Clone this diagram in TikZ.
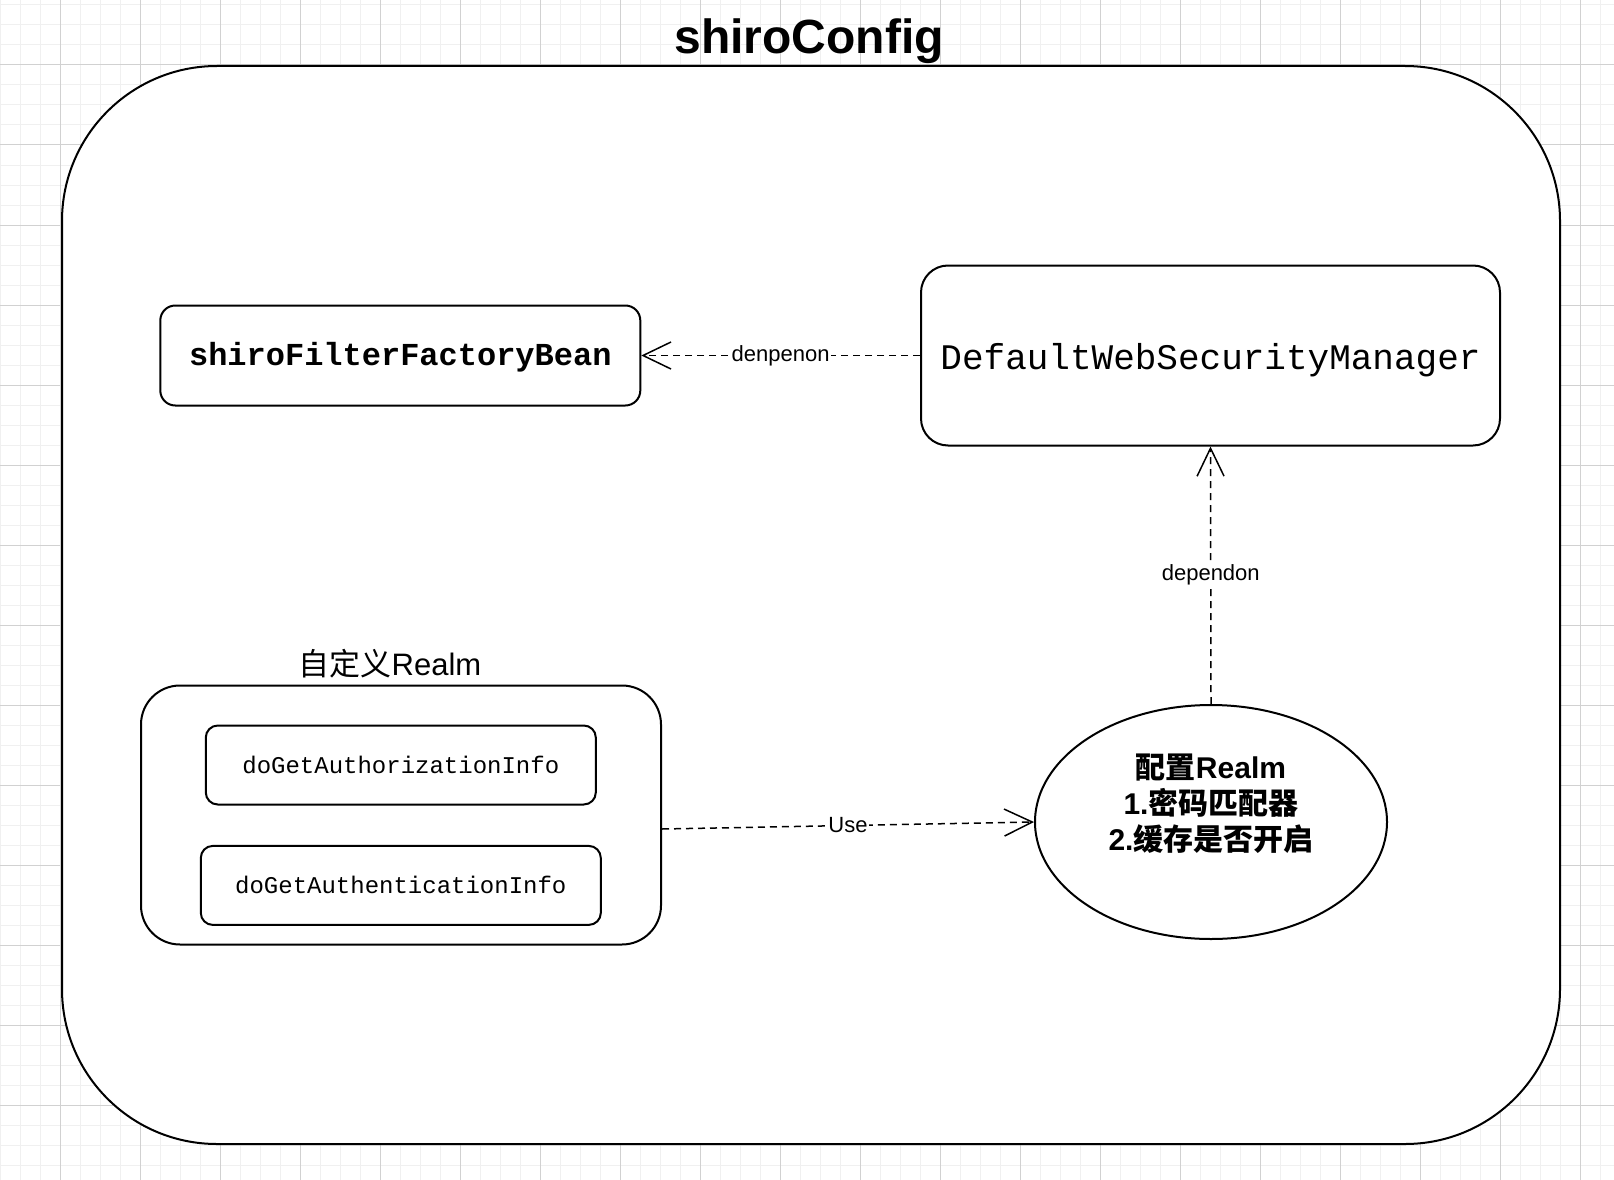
\documentclass[tikz,border=0pt]{standalone}
\usepackage{fontspec}
\setmainfont{Liberation Sans}
\setmonofont{Liberation Mono}
\newfontfamily\cjk{Noto Sans CJK SC}
\usetikzlibrary{arrows.meta,shapes.geometric}
\tikzset{
  minorgrid/.style={draw=black!6, line width=1pt},
  majorgrid/.style={draw=black!18, line width=1pt},
  box/.style={draw=black, line width=2pt, fill=white, rectangle, inner sep=0pt},
  dep/.style={draw=black, line width=1.5pt, dash pattern=on 7pt off 5pt,
    -{Straight Barb[length=28pt,width=27pt,line width=1.5pt]}},
  lbl/.style={font=\fontsize{22}{26}\selectfont, fill=white, inner sep=1pt},
}
\begin{document}
\begin{tikzpicture}[x=1pt,y=-1pt]
\useasboundingbox (0,0) rectangle (1614,1180);
\fill[white] (0,0) rectangle (1614,1180);
% grid
\foreach \x in {0,20,...,1600} \draw[minorgrid] (\x,0) -- (\x,1180);
\foreach \y in {5,25,...,1165} \draw[minorgrid] (0,\y) -- (1614,\y);
\foreach \x in {60,140,...,1580} \draw[majorgrid] (\x,0) -- (\x,1180);
\foreach \y in {65,145,...,1145} \draw[majorgrid] (0,\y) -- (1614,\y);
% outer container
\node[box, rounded corners=155pt, minimum width=1498pt, minimum height=1078pt] (outer) at (811,605) {};
\node[font=\fontsize{48}{58}\selectfont\bfseries] (title) at (809,41) {shiroConfig};
% boxes
\node[box, rounded corners=15pt, minimum width=480pt, minimum height=100pt,
  font=\ttfamily\bfseries\fontsize{32}{38}\selectfont] (sffb) at (400.3,355.5) {\raisebox{-2pt}[\height][\depth]{shiroFilterFactoryBean}};
\node[box, rounded corners=27pt, minimum width=579pt, minimum height=180pt,
  font=\ttfamily\fontsize{36}{42}\selectfont] (dwsm) at (1210.5,355.5) {\raisebox{-5pt}[\height][\depth]{DefaultWebSecurityManager}};
\node[box, rounded corners=39pt, minimum width=520pt, minimum height=259pt] (realm) at (401,815) {};
\node[font=\fontsize{31}{37}\selectfont] (realmlbl) at (390,664) {{\cjk 自定义}Realm};
\node[box, rounded corners=12pt, minimum width=390pt, minimum height=79pt,
  font=\ttfamily\fontsize{24}{28}\selectfont] (authz) at (400.8,765) {doGetAuthorizationInfo};
\node[box, rounded corners=12pt, minimum width=400pt, minimum height=79pt,
  font=\ttfamily\fontsize{24}{28}\selectfont] (authn) at (400.8,885.4) {doGetAuthenticationInfo};
\node[draw=black, line width=2pt, fill=white, ellipse, inner sep=0pt,
  minimum width=352pt, minimum height=234pt,
  label={[font=\fontsize{30}{36}\selectfont\bfseries, align=center, yshift=18pt]center:{\cjk 配置}Realm\\1.{\cjk 密码匹配器}\\2.{\cjk 缓存是否开启}}] (cfg) at (1211,822) {};
% connectors
\draw[dep] (dwsm.west) -- node[lbl] {denpenon} (sffb.east);
\draw[dep] (cfg.north) -- node[lbl] {dependon} (dwsm.south);
\draw[dep] ([yshift=-14pt]realm.east) -- node[lbl] {Use} (cfg.west);
\end{tikzpicture}
\end{document}
